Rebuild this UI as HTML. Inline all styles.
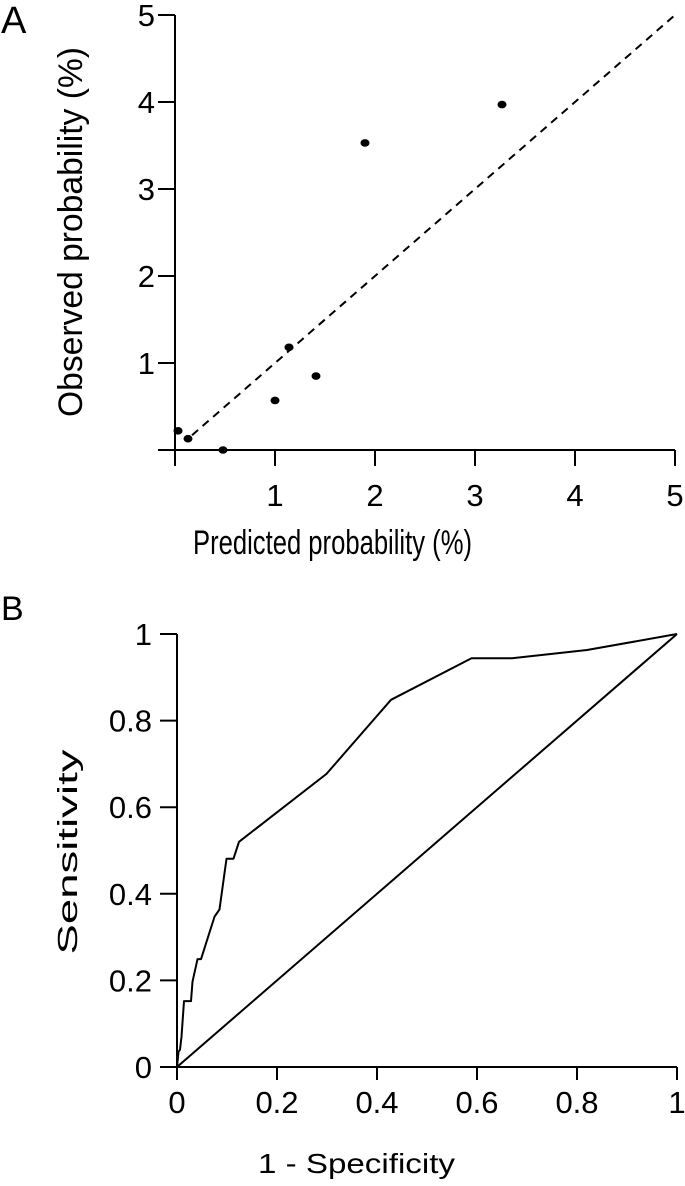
<!DOCTYPE html>
<html><head><meta charset="utf-8"><style>
html,body{margin:0;padding:0;background:#fff;}
svg{display:block;font-family:"Liberation Sans",Arial,sans-serif;}
</style></head><body>
<svg id="chart" width="685" height="1186" viewBox="0 0 685 1186" xmlns="http://www.w3.org/2000/svg">
<g id="pa"></g>
<g id="pb"></g>
</svg>
<script>
// Panel A data
const calibPredicted = [0.03, 0.13, 0.48, 1.0, 1.14, 1.41, 1.90, 3.27];
const calibObserved  = [0.22, 0.13, 0.0, 0.57, 1.18, 0.85, 3.53, 3.97];
const aTicks = [1, 2, 3, 4, 5];
const aRefLine = [0.17, 5];
// Panel B data
const rocFpr = [0, 0.003, 0.006, 0.009, 0.014, 0.028, 0.031, 0.041, 0.048, 0.075, 0.085, 0.099, 0.113, 0.124, 0.299, 0.428, 0.589, 0.67, 0.82, 1];
const rocTpr = [0, 0.035, 0.04, 0.07, 0.152, 0.152, 0.197, 0.249, 0.249, 0.347, 0.364, 0.481, 0.481, 0.520, 0.677, 0.848, 0.944, 0.944, 0.963, 1];
const bTicks = [0, 0.2, 0.4, 0.6, 0.8, 1];
const bTickLabels = ["0", "0.2", "0.4", "0.6", "0.8", "1"];

const NS = "http://www.w3.org/2000/svg";
function mk(parent, tag, attrs, text) {
  const e = document.createElementNS(NS, tag);
  for (const k in attrs) e.setAttribute(k, attrs[k]);
  if (text !== undefined) e.textContent = text;
  parent.appendChild(e);
  return e;
}
const pa = document.getElementById('pa');
const pb = document.getElementById('pb');

// ---- Panel A ----
const ax = v => 175 + v * 100;
const ay = v => 450 - v * 87;
let t = mk(pa, 'text', {x: 1, y: 33, style: 'font-size:38px'}, 'A');


let l = mk(pa, 'line', {x1: ax(0), y1: ay(0), x2: ax(0), y2: ay(5), stroke: '#000', 'stroke-width': 2});


l = mk(pa, 'line', {x1: 158, y1: ay(0), x2: ax(5), y2: ay(0), stroke: '#000', 'stroke-width': 2});


[0].concat(aTicks).forEach(v => {
  const tk = mk(pa, 'line', {x1: 158, y1: ay(v), x2: ax(0), y2: ay(v), stroke: '#000', 'stroke-width': 2});
  
  
  const tk2 = mk(pa, 'line', {x1: ax(v), y1: ay(0), x2: ax(v), y2: 466, stroke: '#000', 'stroke-width': 2});
  
  
});
aTicks.forEach(v => {
  const yl = mk(pa, 'text', {x: 155, y: ay(v) + 11, style: 'font-size:31px', 'text-anchor': 'end'}, String(v));
  
  
  const xl = mk(pa, 'text', {x: ax(v), y: 506, style: 'font-size:31px', 'text-anchor': 'middle'}, String(v));
  
  
});
t = mk(pa, 'text', {x: 193, y: 554, style: 'font-size:34px', textLength: 279, lengthAdjust: 'spacingAndGlyphs'}, 'Predicted probability (%)');


t = mk(pa, 'text', {x: 0, y: 0, style: 'font-size:34px', 'text-anchor': 'middle', transform: 'translate(82,232) rotate(-90)', textLength: 370, lengthAdjust: 'spacingAndGlyphs'}, 'Observed probability (%)');


l = mk(pa, 'line', {x1: ax(aRefLine[0]), y1: ay(aRefLine[0]), x2: ax(aRefLine[1]), y2: ay(aRefLine[1]), stroke: '#000', 'stroke-width': 2, 'stroke-dasharray': '8,6'});


calibPredicted.forEach((p, i) => {
  const c = mk(pa, 'ellipse', {cx: ax(p), cy: ay(calibObserved[i]), rx: 4.5, ry: 3.8, fill: '#000'});
  
  
});

// ---- Panel B ----
const bx = v => 177 + v * 500;
const by = v => 1067 - v * 433;
t = mk(pb, 'text', {x: 1, y: 620, style: 'font-size:34px'}, 'B');


l = mk(pb, 'line', {x1: bx(0), y1: by(0), x2: bx(0), y2: by(1), stroke: '#000', 'stroke-width': 2});


l = mk(pb, 'line', {x1: 160, y1: by(0), x2: bx(1), y2: by(0), stroke: '#000', 'stroke-width': 2});


bTicks.forEach((v, i) => {
  const tk = mk(pb, 'line', {x1: 160, y1: by(v), x2: bx(0), y2: by(v), stroke: '#000', 'stroke-width': 2});
  
  
  const tk2 = mk(pb, 'line', {x1: bx(v), y1: by(0), x2: bx(v), y2: 1080, stroke: '#000', 'stroke-width': 2});
  
  
  const yl = mk(pb, 'text', {x: 152, y: by(v) + 11, style: 'font-size:31px', 'text-anchor': 'end'}, bTickLabels[i]);
  
  
  const xl = mk(pb, 'text', {x: bx(v), y: 1113, style: 'font-size:31px', 'text-anchor': 'middle'}, bTickLabels[i]);
  
  
});
t = mk(pb, 'text', {x: 258, y: 1173, style: 'font-size:28px', textLength: 197, lengthAdjust: 'spacingAndGlyphs'}, '1 - Specificity');


t = mk(pb, 'text', {x: 0, y: 0, style: 'font-size:28px', 'text-anchor': 'middle', transform: 'translate(77,852) rotate(-90)', textLength: 205, lengthAdjust: 'spacingAndGlyphs'}, 'Sensitivity');


l = mk(pb, 'line', {x1: bx(0), y1: by(0), x2: bx(1), y2: by(1), stroke: '#000', 'stroke-width': 2});


const pts = rocFpr.map((f, i) => bx(f) + ',' + by(rocTpr[i])).join(' ');
const pl = mk(pb, 'polyline', {points: pts, fill: 'none', stroke: '#000', 'stroke-width': 2, 'stroke-linejoin': 'round'});


</script>
</body></html>
